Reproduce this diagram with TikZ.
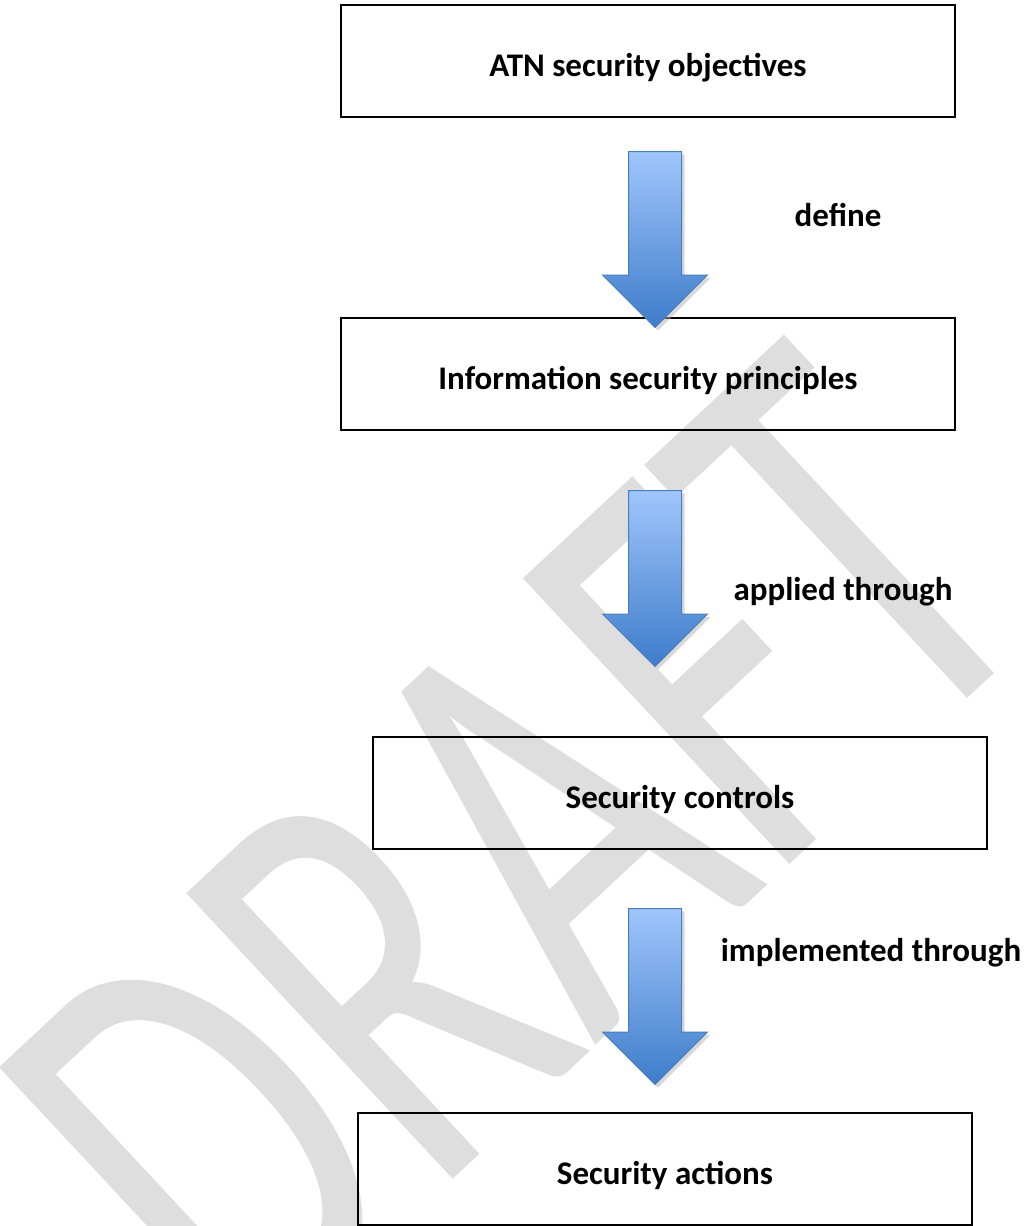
\documentclass[tikz,border=0pt]{standalone}
\usepackage{fontspec}
\setmainfont{Carlito}
\usepackage{tikz}
\usetikzlibrary{shapes.arrows,shadows,positioning}
\definecolor{wmgray}{RGB}{222,222,222}
\definecolor{arrtop}{RGB}{160,198,252}
\definecolor{arrbot}{RGB}{62,124,202}
\definecolor{arrline}{RGB}{74,126,187}

\begin{document}
\begin{tikzpicture}[x=1pt, y=-1pt,
	stage/.style={draw, line width=2pt, minimum width=614pt, minimum height=112pt, inner sep=0pt, text height=38pt, text depth=7pt, font=\fontsize{33}{40}\selectfont\bfseries},
	blockarrow/.style={single arrow, shape border rotate=270, anchor=tail, draw=arrline, line width=1pt, top color=arrtop, bottom color=arrbot, minimum height=176pt, minimum width=104pt, single arrow head extend=26pt, single arrow tip angle=90, single arrow head indent=0pt, inner sep=26pt, drop shadow={shadow xshift=3pt, shadow yshift=-3pt, fill=black!30}},
	verb/.style={font=\fontsize{33}{40}\selectfont\bfseries, inner sep=0pt},
	wmark/.style={text=wmgray, rotate=43, xscale=0.677, inner sep=0pt, font=\fontsize{609}{609}\selectfont}]
	\useasboundingbox (0,0) rectangle (1026,1226);
	\clip (0,0) rectangle (1026,1226);
	% watermark
	\node [wmark] (draft) at (517,852) {DRAFT};
	% stages
	\node [stage] (obj) at (648,61) {ATN security objectives};
	\node [stage] (prin) at (648,374) {Information security principles};
	\node [stage] (ctrl) at (680,793) {Security controls};
	\node [stage] (act) at (665,1169) {Security actions};
	% arrows
	\node [blockarrow] (a1) at (655,151) {};
	\node [blockarrow] (a2) at (655,490) {};
	\node [blockarrow] (a3) at (655,908) {};
	\node [verb] (define) at (838,215) {define};
	\node [verb] (apply) at (843,592) {applied through};
	\node [verb] (impl) at (871,953) {implemented through};
\end{tikzpicture}
\end{document}
